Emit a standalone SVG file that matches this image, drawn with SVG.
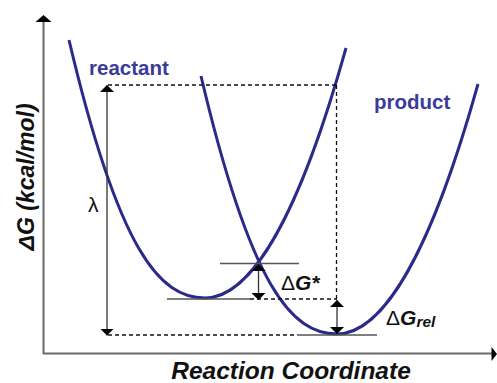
<svg xmlns="http://www.w3.org/2000/svg" width="497" height="383" viewBox="0 0 497 383">
<style>
.curve{fill:none;stroke:#2b2a8a;stroke-width:3}
.axis{stroke:#6a6a6a;stroke-width:2;fill:none}
.ref{stroke:#555;stroke-width:1.5;fill:none}
.dash{stroke:#111;stroke-width:1.3;stroke-dasharray:4 3;fill:none}
.arr{stroke:#333;stroke-width:1.3;fill:none;marker-start:url(#ah);marker-end:url(#ah)}
.lbl{font-family:"Liberation Sans",Arial,sans-serif;font-weight:bold;fill:#3b3b98;font-size:20.5px}
.t{font-family:"Liberation Sans",Arial,sans-serif;fill:#111}
.bi{font-weight:bold;font-style:italic}
</style>
<defs>
<marker id="ah" markerUnits="userSpaceOnUse" markerWidth="7" markerHeight="14" refX="7" refY="7" orient="auto-start-reverse" viewBox="0 0 7 14">
<path d="M0,0 L7,7 L0,14 Z" fill="#000"/>
</marker>
</defs>
<rect width="497" height="383" fill="#fff"/>
<g id="axes">
<line class="axis" x1="43.5" y1="354" x2="43.5" y2="21"/>
<path d="M43.5,15 L51.5,22 L35.5,22 Z" fill="#000"/>
<line class="axis" x1="43" y1="353.5" x2="492" y2="353.5"/>
<path d="M497,354 L491.5,347 L491.5,361 Z" fill="#000"/>
</g>
<g id="reactant-curve">
<path class="curve" d="M69,40 C119,252 160,298 205,298 C242,298 291,245 346,48"/>
</g>
<g id="product-curve">
<path class="curve" d="M201,76 C251,288 292,334 337,334 C374,334 423,281 478,84"/>
</g>
<g id="connectors">
<line class="dash" x1="108" y1="85" x2="336.5" y2="85"/>
<line class="dash" x1="336.5" y1="85" x2="336.5" y2="299"/>
<line class="ref" x1="220" y1="263.5" x2="299" y2="263.5"/>
<line class="ref" x1="167" y1="299" x2="250" y2="299"/>
<line class="dash" x1="250" y1="299" x2="337" y2="299"/>
<line class="dash" x1="108" y1="335" x2="297" y2="335"/>
<line class="ref" x1="297" y1="335" x2="377" y2="335"/>
<line class="arr" x1="107" y1="85" x2="107" y2="335.5"/>
<line class="arr" x1="258.5" y1="264" x2="258.5" y2="300"/>
<line class="arr" x1="337" y1="300" x2="337" y2="334"/>
</g>
<g id="labels">
<text class="lbl" x="89" y="75">reactant</text>
<text class="lbl" x="374" y="109">product</text>
<text class="t" x="88" y="212" font-size="21">λ</text>
<text class="t" x="281" y="290" font-size="21">Δ<tspan class="bi">G*</tspan></text>
<text class="t" x="386" y="325" font-size="21">Δ<tspan class="bi">G</tspan><tspan class="bi" font-size="15.5" dy="2">rel</tspan></text>
<text class="t bi" transform="translate(34,177) rotate(-90)" text-anchor="middle" font-size="23">ΔG (kcal/mol)</text>
<text class="t bi" x="291" y="379" text-anchor="middle" font-size="24.5">Reaction Coordinate</text>
</g>
</svg>
